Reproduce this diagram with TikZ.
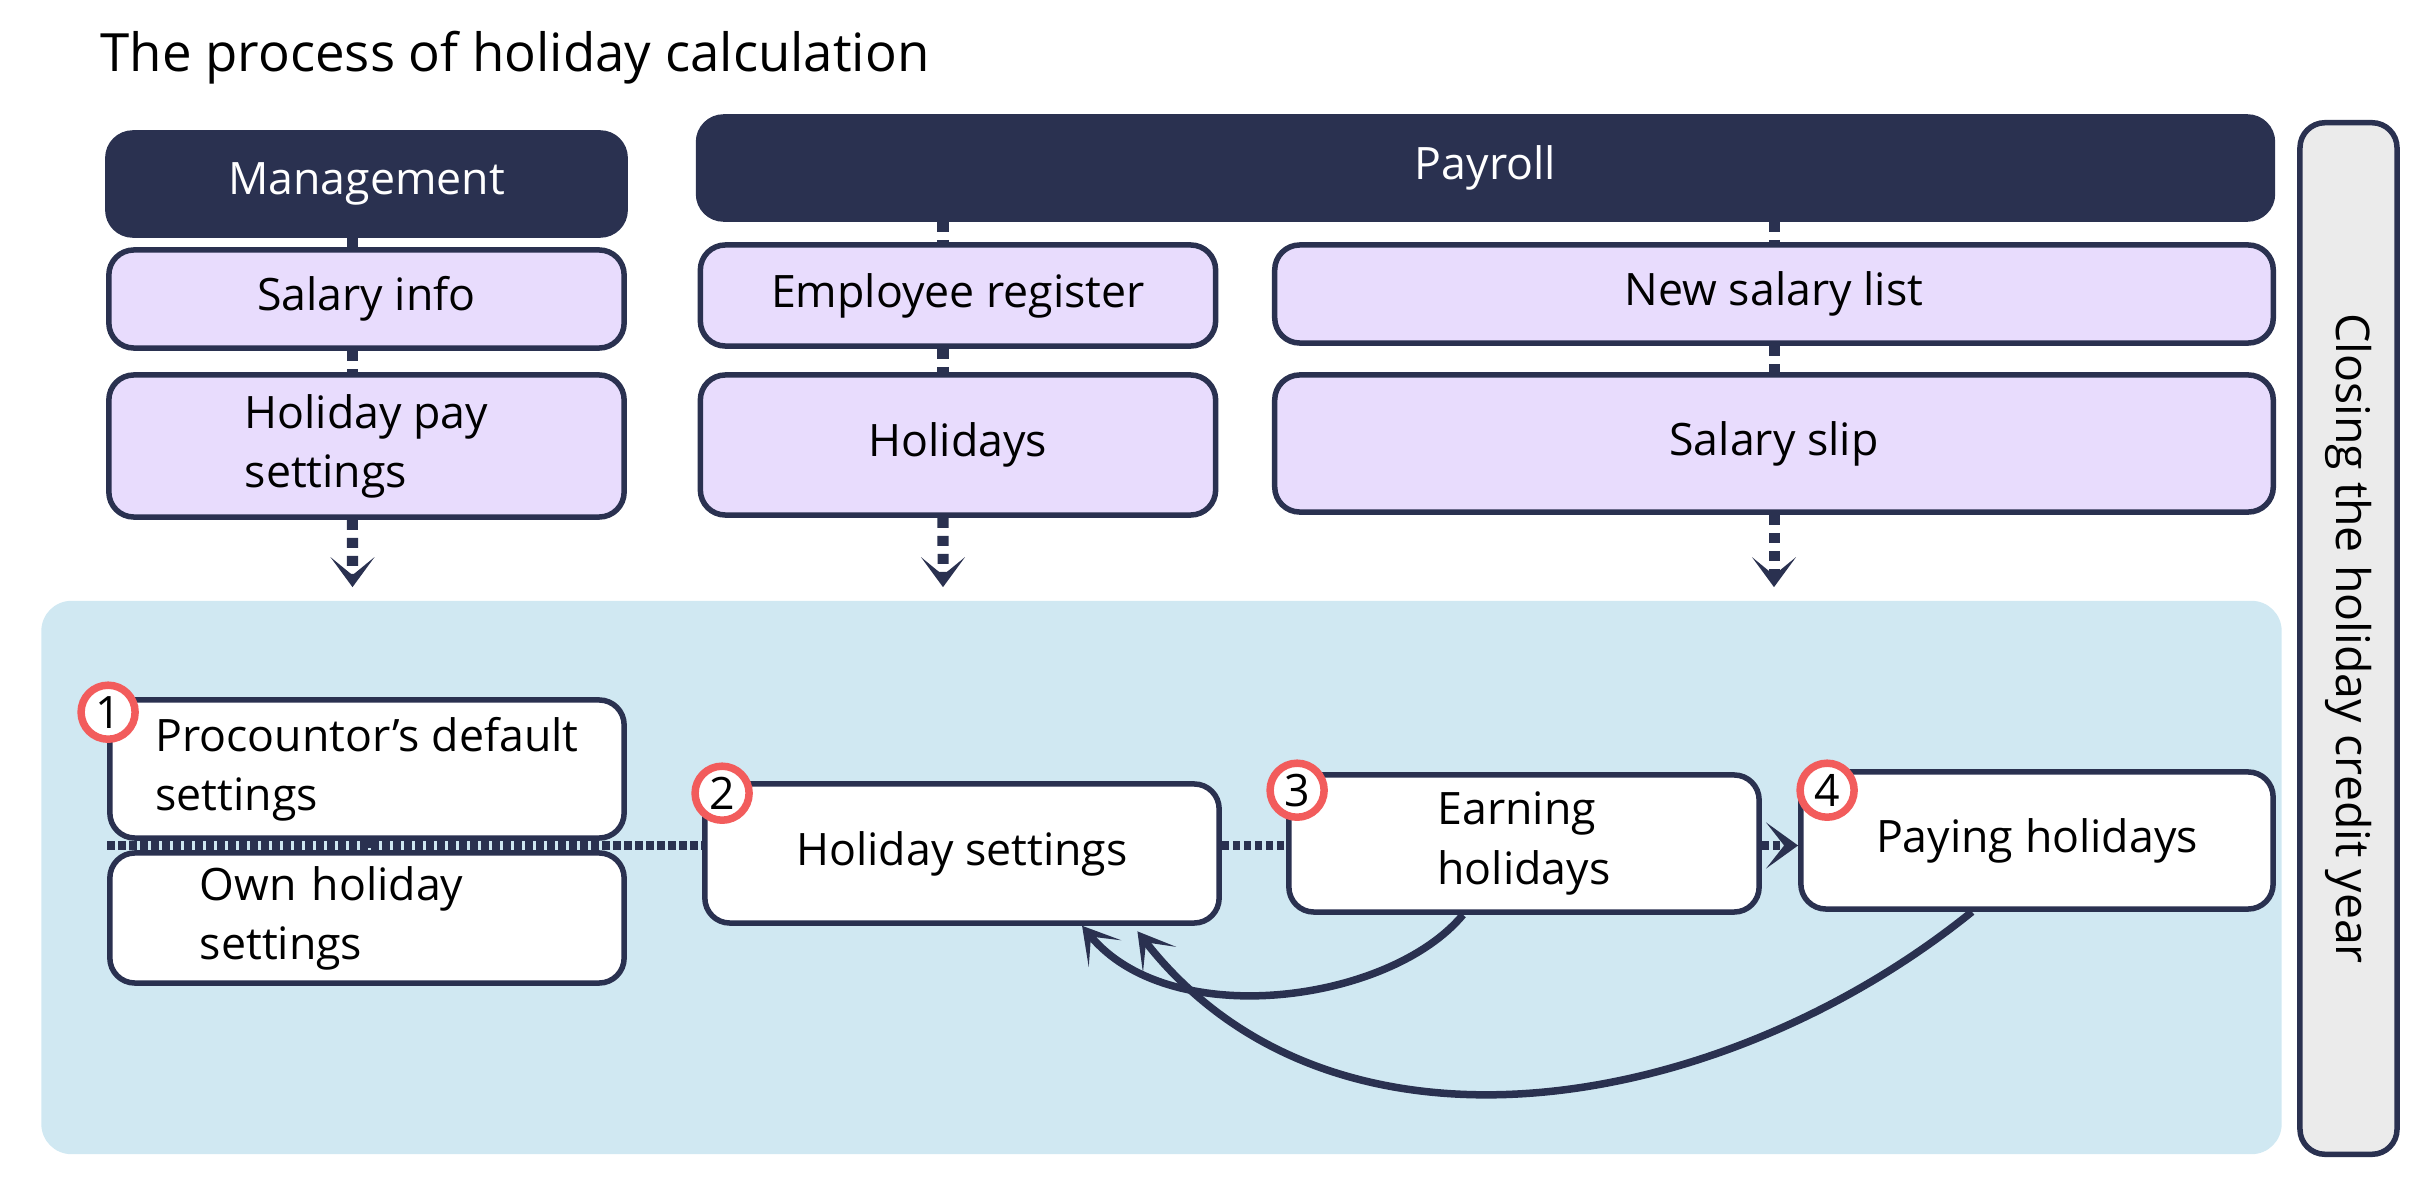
\documentclass[tikz,border=0pt]{standalone}
\usepackage{fontspec}
\setmainfont{Open Sans}
\usepackage{tikz}
\usetikzlibrary{arrows.meta, positioning, calc}
\tikzset{>={Stealth[length=3.6mm,width=4.2mm,inset=2.2mm]}}
\definecolor{navy}{RGB}{42, 49, 80}
\definecolor{lavender}{RGB}{232, 220, 253}
\definecolor{paleblue}{RGB}{208, 232, 242}
\definecolor{closegray}{RGB}{235, 235, 235}
\definecolor{coral}{RGB}{242, 92, 92}

\begin{document}
\begin{tikzpicture}[
    x = 0.01cm, y = -0.01cm,
    every node/.style = {font=\fontsize{12.7}{16.8}\selectfont},
    head/.style = {draw=navy, fill=navy, text=white, line width=0.55mm,
        rounded corners=2.5mm, minimum height=1.02cm},
    info/.style = {draw=navy, fill=lavender, line width=0.55mm,
        rounded corners=2.5mm, minimum width=5.15cm, align=left},
    stepbox/.style = {draw=navy, fill=white, line width=0.55mm,
        rounded corners=2.5mm, minimum height=1.37cm, align=left},
    num/.style = {circle, draw=coral, fill=white, line width=0.75mm,
        minimum size=0.54cm, inner sep=0pt},
    link/.style = {navy, line width=1.1mm, dash pattern=on 1mm off 0.8mm},
    flow/.style = {navy, line width=0.95mm, dash pattern=on 0.75mm off 0.35mm},
    drop/.style = {-{Stealth[length=3mm,width=4.4mm,inset=1.8mm]}},
    back/.style = {navy, line width=0.75mm, ->}
  ]
  \useasboundingbox (0,0) rectangle (2420,1182);

  \node[anchor=base west, inner sep=0pt, font=\fontsize{15}{18}\selectfont] (title)
    at (100,72) {The process of holiday calculation};

  % sources
  \node[head, minimum width=5.17cm] (mgmt) at (366.5,184) {Management};
  \node[head, minimum width=15.73cm] (payroll) at (1485.5,168) {Payroll};
  \node[draw=navy, fill=closegray, line width=0.55mm, rounded corners=2.5mm,
    rotate=-90, minimum width=10.31cm, minimum height=0.97cm,
    font=\fontsize{13.2}{16}\selectfont] (closing) at (2348.5,638.5)
    {Closing the holiday credit year};

  \node[info, minimum height=0.98cm] (salinfo) at (366.5,299) {Salary info};
  \node[info, minimum height=1.42cm] (holpay) at (366.5,446) {Holiday pay\\settings};
  \node[info, minimum height=1.01cm] (empreg) at (958,295.5) {Employee register};
  \node[info, minimum height=1.40cm] (holidays) at (958,445) {Holidays};
  \node[info, minimum width=9.98cm, minimum height=0.98cm] (newsal) at (1774,294) {New salary list};
  \node[info, minimum width=9.98cm, minimum height=1.37cm] (slip) at (1774,443.5) {Salary slip};

  % calculation area
  \node[fill=paleblue, rounded corners=3mm, minimum width=22.39cm,
    minimum height=5.53cm] (area) at (1161.5,877.5) {};

  \node[stepbox, minimum width=5.14cm, minimum height=1.38cm] (proc) at (367,769)
    {Procountor’s default\\settings};
  \node[stepbox, minimum width=5.14cm, minimum height=1.30cm, text width=3.34cm]
    (own) at (367,918) {Own holiday\\settings};
  \node[stepbox, minimum width=5.14cm, minimum height=1.39cm] (hset) at (962,853.5)
    {Holiday settings};
  \node[stepbox, minimum width=4.70cm] (earn) at (1524,843.5) {Earning\\holidays};
  \node[stepbox, minimum width=4.72cm] (pay) at (2037,840.5) {Paying holidays};

  \foreach \s/\n/\dx/\dy in {proc/1/1/15, hset/2/20/12, earn/3/11/18, pay/4/29/21}
  \node[num] (num\n) at ($(\s.north west)+(\dx,\dy)$) {\n};

  % vertical links
  \draw[link] ([xshift=-1.4mm]mgmt.south) -- ([xshift=-1.4mm]salinfo.north);
  \draw[link] ([xshift=-1.4mm]salinfo.south) -- ([xshift=-1.4mm]holpay.north);
  \draw[link] ([xshift=-1.5mm]payroll.south -| empreg) -- ([xshift=-1.5mm]empreg.north);
  \draw[link] ([xshift=-1.5mm]empreg.south) -- ([xshift=-1.5mm]holidays.north);
  \draw[link] (payroll.south -| newsal) -- (newsal.north);
  \draw[link] (newsal.south) -- (slip.north);

  \coordinate (in1) at ($(holpay.south |- area.north)+(-14,-13)$);
  \coordinate (in2) at ($(holidays.south |- area.north)+(-15,-13)$);
  \coordinate (in3) at ($(slip.south |- area.north)+(0,-13)$);
  \draw[link, drop] ([xshift=-1.4mm]holpay.south) -- (in1);
  \draw[link, drop] ([xshift=-1.5mm]holidays.south) -- (in2);
  \draw[link, drop] (slip.south) -- (in3);

  % flow
  \coordinate (gap) at ($(proc.south west)!0.5!(own.north west)$);
  \draw[flow] (proc.south) -- (own.north);
  \draw[flow] (gap) -- (hset.west |- gap);
  \draw[flow] (hset.east |- gap) -- (earn.west |- gap);
  \draw[flow, -{Stealth[length=3.2mm,width=4.6mm,inset=1.8mm]}]
    (earn.east |- gap) -- (pay.west |- gap);

  \draw[back] ([xshift=-6.1mm]earn.south) .. controls +(-73,88) and +(88,107)
    .. ([xshift=12mm]hset.south);
  \draw[back, shorten >=0.7mm] ([xshift=-6.5mm]pay.south) .. controls +(-250,202)
    and +(200,257) .. ([xshift=17.1mm]hset.south);
\end{tikzpicture}
\end{document}
